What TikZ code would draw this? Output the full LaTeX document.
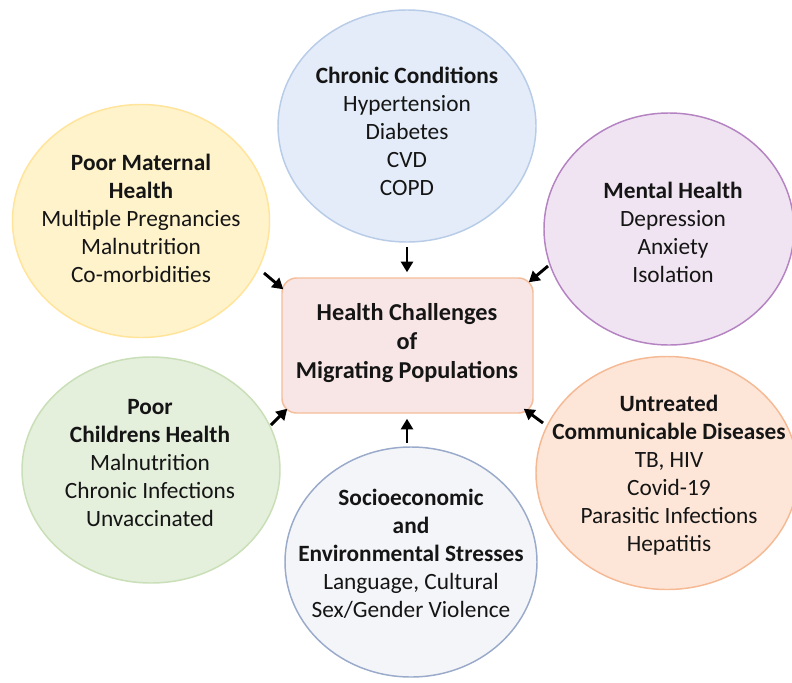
\documentclass[tikz,border=0pt]{standalone}
\usepackage{fontspec}
\setmainfont{Carlito}
\usetikzlibrary{shapes.geometric,arrows.meta}
\definecolor{chrFill}{HTML}{E3ECF8}
\definecolor{chrDraw}{HTML}{B8CCE8}
\definecolor{matFill}{HTML}{FFF3CC}
\definecolor{matDraw}{HTML}{FFE49A}
\definecolor{menFill}{HTML}{F0E4F2}
\definecolor{menDraw}{HTML}{B583C2}
\definecolor{untFill}{HTML}{FDE6D8}
\definecolor{untDraw}{HTML}{F5B994}
\definecolor{chdFill}{HTML}{E4EFDC}
\definecolor{chdDraw}{HTML}{C9DFB7}
\definecolor{socFill}{HTML}{F4F5F8}
\definecolor{socDraw}{HTML}{9AAACB}
\definecolor{boxFill}{HTML}{F8E5E6}
\definecolor{boxDraw}{HTML}{F5BE9A}
\definecolor{txt}{HTML}{151515}
\begin{document}
\begin{tikzpicture}[x=0.75pt,y=-0.75pt,
  ell/.style n args={4}{ellipse, inner sep=0pt, line width=1.1pt, draw=#3, fill=#4,
     minimum width=#1*0.75pt, minimum height=#2*0.75pt},
  lbl/.style={align=center, text=txt, font=\fontsize{17.5}{21}\selectfont, inner sep=0pt},
  arr/.style={line width=2.2pt, -{Triangle[length=8pt,width=9pt]}}
]
\clip (0,0) rectangle (792,682);
\fill[white] (0,0) rectangle (792,682);

% ellipses
\node[ell={258}{232}{chrDraw}{chrFill}] (chr) at (407,126) {};
\node[ell={257}{233}{matDraw}{matFill}] (mat) at (141,221) {};
\node[ell={250}{232}{menDraw}{menFill}] (men) at (669,229) {};
\node[ell={262}{233}{untDraw}{untFill}] (unt) at (667,473) {};
\node[ell={258}{226}{chdDraw}{chdFill}] (chd) at (151,470) {};
\node[ell={252}{230}{socDraw}{socFill}] (soc) at (411,562) {};

% central box
\node[draw=boxDraw, fill=boxFill, line width=1.1pt, rounded corners=11pt,
      minimum width=251*0.75pt, minimum height=135*0.75pt, inner sep=0pt] (box) at (407.5,345.5) {};

% texts
\node[lbl] (chrT) at (407,131) {\textbf{Chronic Conditions}\\Hypertension\\Diabetes\\CVD\\COPD};
\node[lbl] (matT) at (141,218) {\textbf{Poor Maternal}\\\textbf{Health}\\Multiple Pregnancies\\Malnutrition\\Co-morbidities};
\node[lbl] (menT) at (673,232) {\textbf{Mental Health}\\Depression\\Anxiety\\Isolation};
\node[lbl] (untT) at (669,475) {\textbf{Untreated}\\\textbf{Communicable Diseases}\\TB, HIV\\Covid-19\\Parasitic Infections\\Hepatitis};
\node[lbl] (chdT) at (150,463) {\textbf{Poor}\\\textbf{Childrens Health}\\Malnutrition\\Chronic Infections\\Unvaccinated};
\node[lbl] (socT) at (411,554) {\textbf{Socioeconomic}\\\textbf{and}\\\textbf{Environmental Stresses}\\Language, Cultural\\Sex/Gender Violence};
\node[align=center, text=txt, font=\fontsize{18.2}{22}\selectfont\bfseries, inner sep=0pt] (boxT) at (407,343)
  {Health Challenges\\of\\Migrating Populations};

% arrows
\draw[arr] ([shift={(0,121)}]chr.center) -- ([shift={(-0.5,-5)}]box.north);
\draw[arr] ([shift={(123,52)}]mat.center) -- ([shift={(2,12)}]box.north west);
\draw[arr] ([shift={(-121,37)}]men.center) -- ([shift={(-5,5)}]box.north east);
\draw[arr] ([shift={(120,-45)}]chd.center) -- ([shift={(6,-5)}]box.south west);
\draw[arr] ([shift={(-4,-119)}]soc.center) -- ([shift={(-0.5,5)}]box.south);
\draw[arr] ([shift={(-124,-50)}]unt.center) -- ([shift={(-10,-5)}]box.south east);
\end{tikzpicture}
\end{document}
